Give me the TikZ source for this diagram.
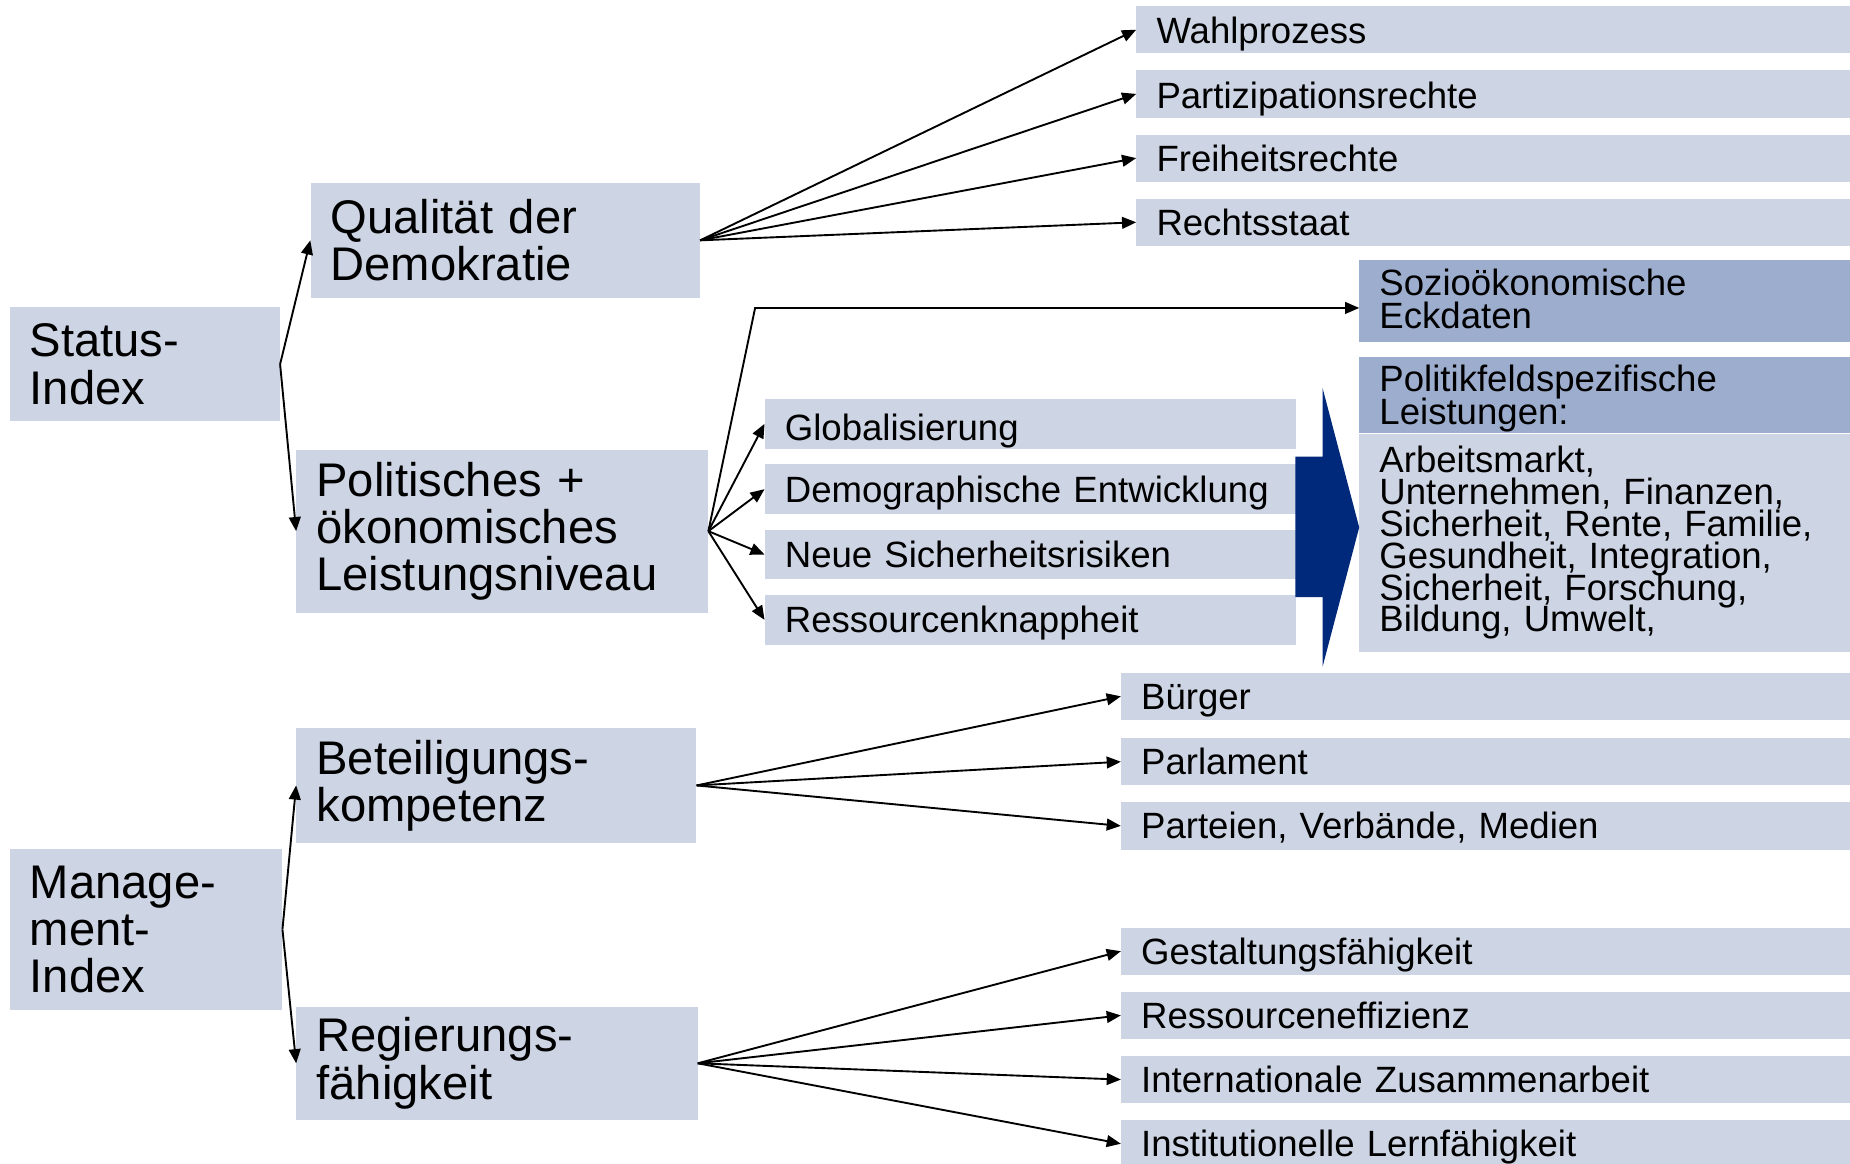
\documentclass[tikz,border=0pt]{standalone}
\usepackage{fontspec}
\setmainfont{Liberation Sans}
\usetikzlibrary{arrows.meta,positioning}

\definecolor{kasten}{RGB}{205,212,227}
\definecolor{kopf}{RGB}{157,173,206}
\definecolor{pfeilblau}{RGB}{0,41,123}

\newcommand{\engzeilen}{\setlength{\lineskiplimit}{-100pt}\setlength{\lineskip}{0pt}}

\tikzset{
    gross/.style={fill=kasten, anchor=north west, inner sep=0pt, inner xsep=17pt,
        align=left, font=\fontsize{40}{40}\selectfont},
    eintrag/.style={fill=kasten, anchor=north west, inner sep=0pt, inner xsep=17pt,
        minimum height=40pt, text height=22pt, text depth=0pt, align=left,
        font=\fontsize{31}{31}\selectfont},
    liste/.style={anchor=north west, inner sep=0pt, inner xsep=17pt, text width=382pt,
        align=left, font=\fontsize{31}{27}\selectfont, execute at begin node=\engzeilen},
    pfeil/.style={-{Triangle[length=12pt,width=10pt]}, line width=1.6pt}
}

\begin{document}
\begin{tikzpicture}[x=1pt, y=-1pt]
    \useasboundingbox (0,0) rectangle (1568,986);

    % linke Spalte
    \node (status) [gross, text width=195pt, minimum height=97pt] at (8,260) {Status-\\Index};
    \node (manage) [gross, text width=197pt, minimum height=137pt] at (8,719) {Manage-\\ment-\\Index};

    \node (qual) [gross, text width=296pt, minimum height=97pt] at (263,155) {Qualität der\\Demokratie};
    \node (polit) [gross, text width=315pt, minimum height=138pt] at (251,381)
        {Politisches +\\ökonomisches\\Leistungsniveau};
    \node (beteil) [gross, text width=305pt, minimum height=97pt] at (251,617) {Beteiligungs-\\kompetenz};
    \node (regier) [gross, text width=306pt, minimum height=96pt] at (251,853) {Regierungs-\\fähigkeit};

    % Demokratie
    \node (wahl) [eintrag, text width=571pt, text height=24pt] at (963,5) {Wahlprozess};
    \node (parti) [eintrag, text width=571pt, text height=24pt, below=14pt of wahl] {Partizipationsrechte};
    \node (frei) [eintrag, text width=571pt, below=14pt of parti] {Freiheitsrechte};
    \node (recht) [eintrag, text width=571pt, below=14pt of frei] {Rechtsstaat};

    % Leistungsniveau
    \node (glob) [eintrag, text width=416pt, minimum height=42pt, text height=28pt] at (648,338) {Globalisierung};
    \node (demo) [eintrag, text width=416pt, minimum height=42pt, below=13pt of glob]
        {Demographische Entwicklung};
    \node (neue) [eintrag, text width=416pt, minimum height=42pt, below=13pt of demo]
        {Neue Sicherheitsrisiken};
    \node (knapp) [eintrag, text width=416pt, minimum height=42pt, below=13pt of neue]
        {Ressourcenknappheit};

    \node (sozio) [liste, fill=kopf, minimum height=70pt, text height=19pt,
        font=\fontsize{31}{28}\selectfont] at (1152,220)
        {Sozioökonomische\\Eckdaten};
    \node (leistkopf) [liste, fill=kopf, minimum height=65pt, text height=29pt,
        font=\fontsize{31}{28}\selectfont] at (1152,302)
        {Politikfeldspezifische\\Leistungen:};
    \node (leist) [liste, fill=kasten, minimum height=185pt, below=0pt of leistkopf]
        {Arbeitsmarkt,\\Unternehmen, Finanzen,\\Sicherheit, Rente, Familie,\\
        Gesundheit, Integration,\\Sicherheit, Forschung,\\Bildung, Umwelt,};

    % Management
    \node (buerger) [eintrag, text width=584pt] at (950,570) {Bürger};
    \node (parl) [eintrag, text width=584pt, below=15pt of buerger] {Parlament};
    \node (verb) [eintrag, text width=584pt, below=14pt of parl] {Parteien, Verbände, Medien};

    \node (gestalt) [eintrag, text width=584pt] at (950,786) {Gestaltungsfähigkeit};
    \node (effiz) [eintrag, text width=584pt, below=14pt of gestalt] {Ressourceneffizienz};
    \node (intl) [eintrag, text width=584pt, below=14pt of effiz] {Internationale Zusammenarbeit};
    \node (lern) [eintrag, text width=584pt, below=14pt of intl] {Institutionelle Lernfähigkeit};

    \coordinate (knick) at (640,261);

    \draw[pfeil] (status.east) -- (qual.west);
    \draw[pfeil] (status.east) -- (polit.west);
    \draw[pfeil] (manage.east) -- (beteil.west);
    \draw[pfeil] (manage.east) -- (regier.west);

    \draw[pfeil] (qual.east) -- (wahl.west);
    \draw[pfeil] (qual.east) -- (parti.west);
    \draw[pfeil] (qual.east) -- (frei.west);
    \draw[pfeil] (qual.east) -- (recht.west);

    \draw[pfeil] (polit.east) -- (knick) -- (knick -| sozio.west);
    \draw[pfeil] (polit.east) -- (glob.west);
    \draw[pfeil] (polit.east) -- (demo.west);
    \draw[pfeil] (polit.east) -- (neue.west);
    \draw[pfeil] (polit.east) -- (knapp.west);

    \draw[pfeil] (beteil.east) -- (buerger.west);
    \draw[pfeil] (beteil.east) -- (parl.west);
    \draw[pfeil] (beteil.east) -- (verb.west);

    \draw[pfeil] (regier.east) -- (gestalt.west);
    \draw[pfeil] (regier.east) -- (effiz.west);
    \draw[pfeil] (regier.east) -- (intl.west);
    \draw[pfeil] (regier.east) -- (lern.west);

    % breiter Pfeil
    \fill[pfeilblau] (1098,387) -- (1121,387) -- (1121,329) -- (1152,447)
        -- (1121,565) -- (1121,506) -- (1098,506) -- cycle;
\end{tikzpicture}
\end{document}
